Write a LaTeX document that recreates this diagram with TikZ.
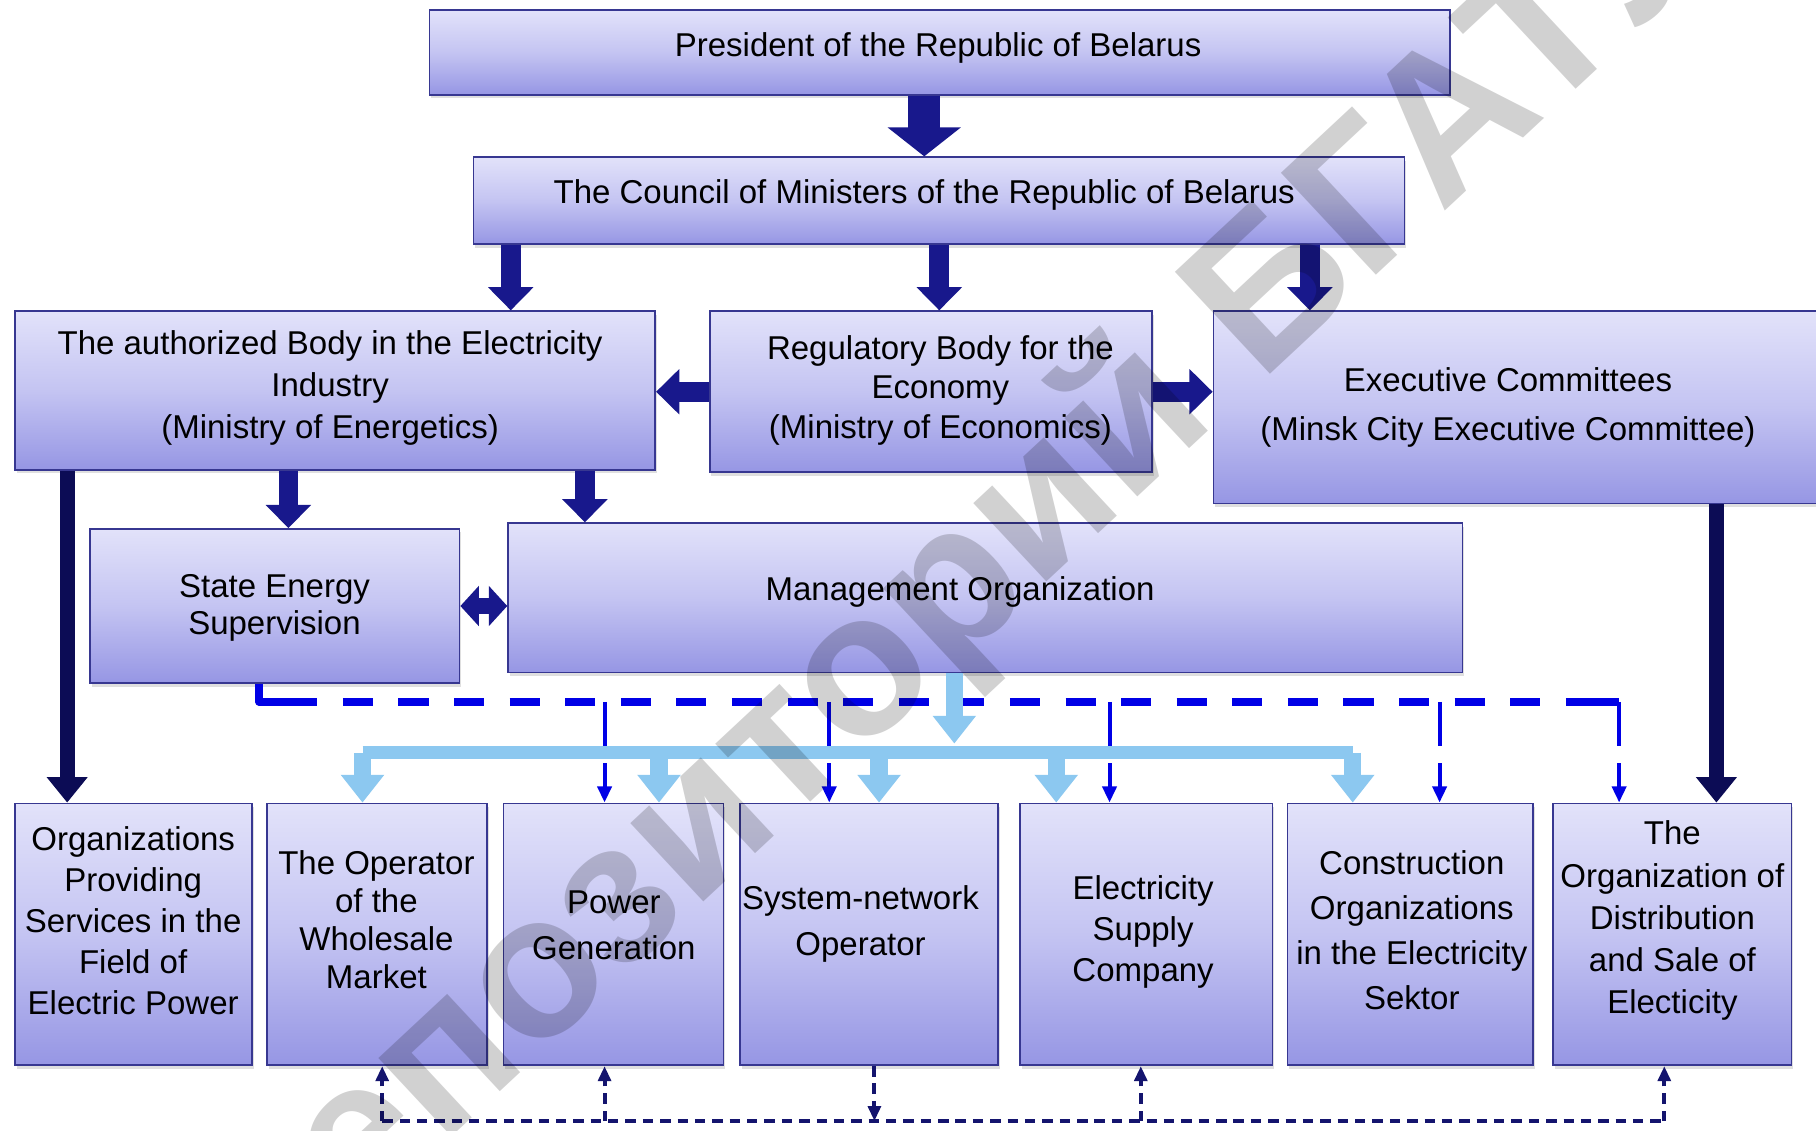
\documentclass[tikz,border=0pt]{standalone}
\usepackage{fontspec}
\setmainfont{Liberation Sans}
\usetikzlibrary{arrows.meta,shadows}
\definecolor{boxtop}{RGB}{226,226,250}
\definecolor{boxmid}{RGB}{196,196,242}
\definecolor{boxbot}{RGB}{150,150,228}
\definecolor{boxedge}{RGB}{55,55,145}
\definecolor{navy}{RGB}{24,24,140}
\definecolor{darknavy}{RGB}{12,12,85}
\definecolor{lblue}{RGB}{140,200,240}
\definecolor{dblue}{RGB}{0,0,230}
\definecolor{dotnavy}{RGB}{20,20,110}
\begin{document}
\begin{tikzpicture}[x=1pt,y=-1pt,
  orgbox/.style={draw=boxedge, line width=1.5pt, top color=boxtop, bottom color=boxbot, middle color=boxmid,
     inner sep=0pt, anchor=north west,
     drop shadow={shadow xshift=1.5pt, shadow yshift=-3pt, opacity=0.25}},
  lbl/.style={align=center, inner sep=0pt, font=\fontsize{28.5}{#1}\selectfont},
  lbl/.default=36,
  bigarr/.style={navy, line width=28pt, -{Triangle[width=62pt,length=25pt]}},
  midarr/.style={navy, line width=17pt, -{Triangle[width=38pt,length=20pt]}},
  dblarr/.style={navy, line width=14pt, {Triangle[width=34pt,length=16pt]}-{Triangle[width=34pt,length=16pt]}},
  longarr/.style={darknavy, line width=13pt, -{Triangle[width=34pt,length=22pt]}},
  lbarr/.style={lblue, line width=15pt, -{Triangle[width=36pt,length=24pt]}},
  dashmain/.style={dblue, line width=7pt, dash pattern=on 26pt off 22pt},
  thinb/.style={dblue, line width=3.5pt},
  thinbarr/.style={dblue, line width=3.5pt, -{Triangle[width=12pt,length=14pt]}},
  dotb/.style={dotnavy, line width=3.5pt, dash pattern=on 9pt off 6pt},
  dotbarr/.style={dotnavy, line width=3.5pt, dash pattern=on 9pt off 6pt, -{Triangle[width=11pt,length=13pt]}}
]
\useasboundingbox (0,0) rectangle (1568,976);
\fill[white] (0,0) rectangle (1568,976);
\begin{scope}
\clip (0,0) rectangle (1568,976);

% boxes
\node[orgbox, minimum width=881pt, minimum height=73pt] (pres) at (370,8) {};
\node[orgbox, minimum width=804pt, minimum height=75pt] (council) at (408,135) {};
\node[orgbox, minimum width=553pt, minimum height=137pt] (auth) at (12,268) {};
\node[orgbox, minimum width=382pt, minimum height=139pt] (reg) at (612,268) {};
\node[orgbox, minimum width=530pt, minimum height=166pt] (exec) at (1047,268) {};
\node[orgbox, minimum width=319pt, minimum height=133pt] (state) at (77,456) {};
\node[orgbox, minimum width=824pt, minimum height=129pt] (mgmt) at (438,451) {};
\node[orgbox, minimum width=205pt, minimum height=226pt] (b1) at (12,693) {};
\node[orgbox, minimum width=190pt, minimum height=226pt] (b2) at (230,693) {};
\node[orgbox, minimum width=190pt, minimum height=226pt] (b3) at (434,693) {};
\node[orgbox, minimum width=223pt, minimum height=226pt] (b4) at (638,693) {};
\node[orgbox, minimum width=218pt, minimum height=226pt] (b5) at (880,693) {};
\node[orgbox, minimum width=212pt, minimum height=226pt] (b6) at (1111,693) {};
\node[orgbox, minimum width=206pt, minimum height=226pt] (b7) at (1340,693) {};

% texts
\node[lbl] (tPres) at (810,41) {President of the Republic of Belarus};
\node[lbl] (tCouncil) at (798,168) {The Council of Ministers of the Republic of Belarus};
\node[lbl=36.5] (tAuth) at (285,335) {The authorized Body in the Electricity\\Industry\\(Ministry of Energetics)};
\node[lbl=34] (tReg) at (812,337) {Regulatory Body for the\\Economy\\(Ministry of Economics)};
\node[lbl=42] (tExec) at (1302,352) {Executive Committees\\(Minsk City Executive Committee)};
\node[lbl=32] (tState) at (237,525) {State Energy\\Supervision};
\node[lbl] (tMgmt) at (829,511) {Management Organization};
\node[lbl=35.5] (tOrgs) at (115,795) {Organizations\\Providing\\Services in the\\Field of\\Electric Power};
\node[lbl=33] (tOper) at (325,794) {The Operator\\of the\\Wholesale\\Market};
\node[lbl=40] (tPower) at (530,799) {Power\\Generation};
\node[lbl=40] (tSys) at (743,798) {System-network\\Operator};
\node[lbl=35.5] (tSupply) at (987,805) {Electricity\\Supply\\Company};
\node[lbl=38.7] (tConstr) at (1219,803) {Construction\\Organizations\\in the Electricity\\Sektor};
\node[lbl=36.5] (tDistr) at (1444,795) {The\\Organization of\\Distribution\\and Sale of\\Electicity};

% helper x positions
\coordinate (xPC) at (798,0);
\coordinate (xCA) at (441,0);
\coordinate (xCR) at (811,0);
\coordinate (xCE) at (1131,0);
\coordinate (xAS) at (249,0);
\coordinate (xAM) at (505,0);
\coordinate (xAO) at (58,0);
\coordinate (xED) at (1482,0);

% dark arrows
\draw[bigarr] (pres.south -| xPC) -- (council.north -| xPC);
\draw[midarr] (council.south -| xCA) -- (auth.north -| xCA);
\draw[midarr] (council.south -| xCR) -- (reg.north -| xCR);
\draw[midarr] (council.south -| xCE) -- (exec.north -| xCE);
\draw[midarr] (reg.west) -- (reg.west -| auth.east);
\draw[midarr] (reg.east) -- (reg.east -| exec.west);
\draw[midarr] (auth.south -| xAS) -- (state.north -| xAS);
\draw[midarr] (auth.south -| xAM) -- (mgmt.north -| xAM);
\draw[dblarr] (state.east) -- (state.east -| mgmt.west);
\draw[longarr] (auth.south -| xAO) -- (b1.north -| xAO);
\draw[longarr] (exec.south -| xED) -- (b7.north -| xED);

% dashed blue control lines
\coordinate (dL) at (224,606);
\coordinate (dR) at (1398,606);
\draw[dblue, line width=7pt, line join=round] (state.south -| dL) -- (dL) -- ++(24,0);
\draw[dashmain] ([xshift=24pt]dL) -- (dR);
\draw[dblue, line width=7pt] ([xshift=-20pt]dR) -- (dR);
\coordinate (v1) at (522,606);
\coordinate (v2) at (716,606);
\coordinate (v3) at (958,606);
\coordinate (v4) at (1243,606);
\foreach \v/\b in {v1/b3, v2/b4, v3/b5, v4/b6, dR/b7}{
  \draw[thinb] (\v) -- ([yshift=-38pt]\v);
  \draw[thinbarr] ([yshift=-53pt]\v) -- (\b.north -| \v);
}

% light blue distribution
\coordinate (mtip) at (824,642);
\coordinate (barL) at (313,650);
\coordinate (barR) at (1168,650);
\coordinate (l2) at (569,650);
\coordinate (l3) at (759,650);
\coordinate (l4) at (912,650);
\draw[lblue, line width=11pt] (barL) -- (barR);
\draw[lbarr] (mgmt.south -| mtip) -- (mtip);
\draw[lbarr] (barL) -- (b2.north -| barL);
\draw[lbarr] (l2) -- (b3.north -| l2);
\draw[lbarr] (l3) -- (b4.north -| l3);
\draw[lbarr] (l4) -- (b5.north -| l4);
\draw[lbarr] (barR) -- (b6.north -| barR);

% bottom dotted links
\coordinate (hL) at (330,968);
\coordinate (h2) at (522,968);
\coordinate (h3) at (755,968);
\coordinate (h4) at (985,968);
\coordinate (hR) at (1437,968);
\draw[dotb] (hL) -- (hR);
\draw[dotbarr] (hL) -- (b2.south -| hL);
\draw[dotbarr] (h2) -- (b3.south -| h2);
\draw[dotbarr] (b4.south -| h3) -- (h3);
\draw[dotbarr] (h4) -- (b5.south -| h4);
\draw[dotbarr] (hR) -- (b7.south -| hR);

% watermark
\node[rotate=43, anchor=base west, inner sep=0pt, text opacity=0.18,
      font=\fontsize{175}{175}\selectfont\bfseries] (wm) at (228,1133) {Репозиторий БГАТУ};
\end{scope}
\end{tikzpicture}
\end{document}
